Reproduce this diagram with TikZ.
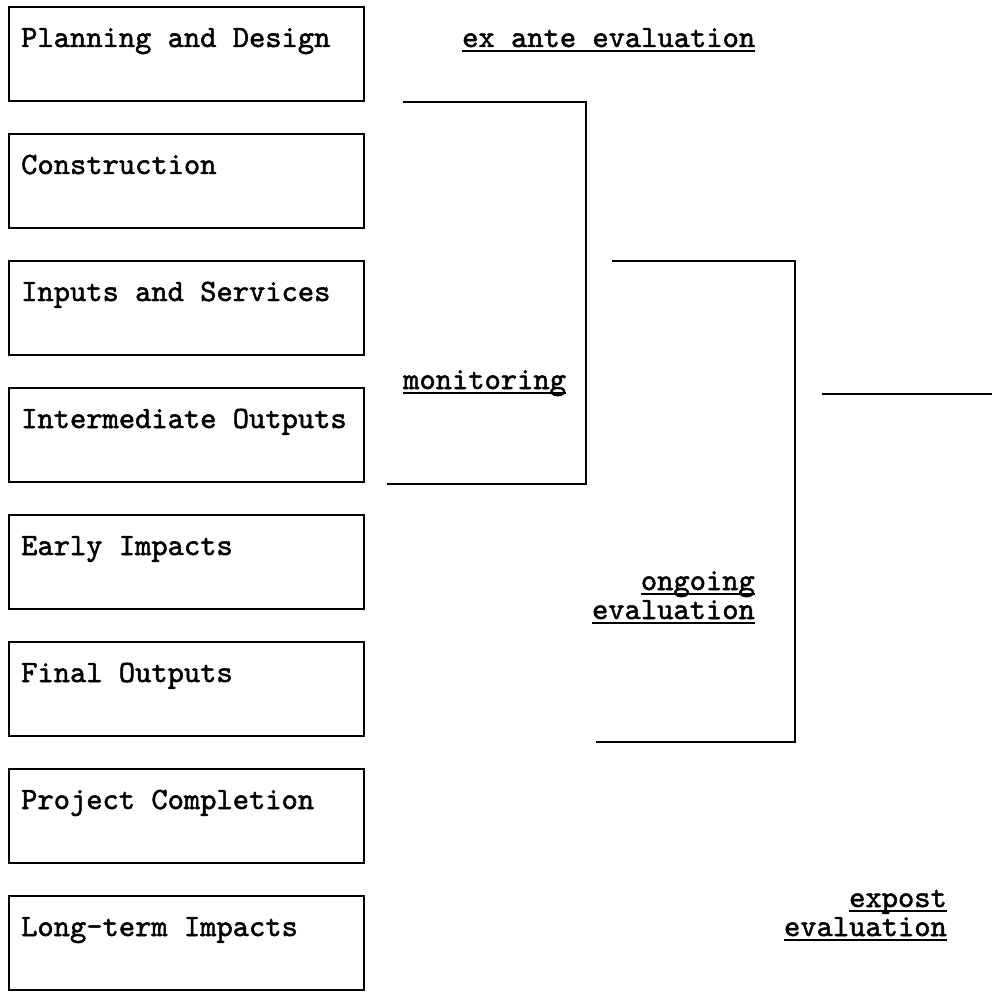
\documentclass[tikz,border=0pt]{standalone}
\usepackage{fontspec}
\usepackage{tikz}
\usetikzlibrary{positioning, calc}
\newfontfamily\typewriter{lmmono10-regular.otf}[FakeBold=1.6]
\newcommand{\ulword}[1]{\setbox0\hbox{#1}\rlap{\rule[-5pt]{\wd0}{2pt}}\box0}

\begin{document}
\begin{tikzpicture}[x=1pt, y=-1pt,
  stage/.style={draw, line width=1.6pt, minimum width=355pt,
                minimum height=94pt, anchor=north west, inner sep=0pt},
  stagetext/.style={anchor=base west, inner sep=0pt,
                    font=\typewriter\fontsize{31}{30}\selectfont},
  tag/.style={inner sep=0pt, font=\typewriter\fontsize{31}{30}\selectfont},
  bracket/.style={line width=2pt}]
  \useasboundingbox (0,0) rectangle (992,992);
  % project stages
  \foreach \i/\t in {0/Planning and Design, 1/Construction,
                     2/Inputs and Services, 3/Intermediate Outputs,
                     4/Early Impacts, 5/Final Outputs,
                     6/Project Completion, 7/Long-term Impacts}{
    \node[stage] (s\i) at (8, {6+127*\i}) {};
    \node[stagetext] (t\i) at ([xshift=13pt, yshift=-41pt]s\i.north west) {\t};
  }
  % evaluation brackets
  \node[tag, anchor=base west] (exante) at (462,47) {\ulword{ex ante evaluation}};
  \node[tag, anchor=base west] (monitor) at (403,389) {\ulword{monitoring}};
  \node[tag, anchor=base east] (ongo) at (755,590) {\ulword{ongoing}};
  \node[tag, anchor=base east] (ongoeval) at ([yshift=-29pt]ongo.base east) {\ulword{evaluation}};
  \node[tag, anchor=base east] (expost) at (947,907) {\ulword{expost}};
  \node[tag, anchor=base east] (expeval) at ([yshift=-29pt]expost.base east) {\ulword{evaluation}};
  \coordinate (montop) at (403,102);
  \coordinate (moncorner) at (586,484);
  \coordinate (monend) at (387,484);
  \coordinate (ongotop) at (612,261);
  \coordinate (ongocorner) at (795,742);
  \coordinate (ongoend) at (596,742);
  \coordinate (expa) at (822,394);
  \coordinate (expb) at (992,394);
  \draw[bracket] (montop) -| (moncorner) -- (monend);
  \draw[bracket] (ongotop) -| (ongocorner) -- (ongoend);
  \draw[bracket] (expa) -- (expb);
\end{tikzpicture}
\end{document}
